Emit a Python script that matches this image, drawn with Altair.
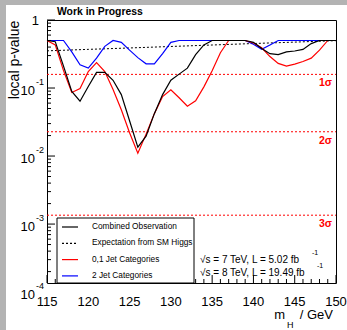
import altair as alt
import pandas as pd

# ---------------- data ----------------
mass = list(range(115, 151))
combined = [0.50, 0.48, 0.21, 0.089, 0.064, 0.105, 0.17, 0.17, 0.13, 0.08,
            0.033, 0.0135, 0.0196, 0.042, 0.08, 0.13, 0.16, 0.196, 0.31, 0.43,
            0.50, 0.50, 0.50, 0.50, 0.50, 0.47, 0.38, 0.32, 0.31, 0.34,
            0.35, 0.37, 0.45, 0.50, 0.50, 0.50]
jet01 = [0.50, 0.43, 0.18, 0.086, 0.098, 0.175, 0.237, 0.175, 0.095, 0.048,
         0.022, 0.011, 0.021, 0.042, 0.075, 0.094, 0.072, 0.054, 0.065, 0.104,
         0.18, 0.33, 0.50, 0.50, 0.50, 0.46, 0.39, 0.29, 0.23, 0.21,
         0.225, 0.245, 0.275, 0.36, 0.50, 0.50]
jet2 = [0.50, 0.50, 0.50, 0.34, 0.22, 0.196, 0.275, 0.41, 0.50, 0.47,
        0.36, 0.28, 0.227, 0.227, 0.32, 0.47, 0.50, 0.50, 0.50, 0.50,
        0.50, 0.50, 0.50, 0.50, 0.50, 0.44, 0.37, 0.43, 0.50, 0.50,
        0.50, 0.50, 0.50, 0.50, 0.50, 0.50]
exp_mass = [115, 120, 125, 130, 135, 140, 145, 150]
expected = [0.352, 0.37, 0.388, 0.408, 0.429, 0.451, 0.473, 0.497]

sigma_labels = ["1σ", "2σ", "3σ"]
sigma_p = [0.1587, 0.02275, 0.00135]

x_major = [115, 120, 125, 130, 135, 140, 145, 150]
x_minor = [m for m in range(115, 151) if m % 5 != 0]
y_decades = [0.1, 0.01, 0.001, 0.0001]
y_exponents = ["-1", "-2", "-3", "-4"]
y_major = [1.0, 0.1, 0.01, 0.001]
Y_MIN = 1.36e-4
y_minor = [k * 10.0 ** e for e in (-1, -2, -3, -4) for k in range(2, 10)
           if k * 10.0 ** e >= Y_MIN]

legend_labels = ["Combined Observation", "Expectation from SM Higgs",
                 "0,1 Jet Categories", "2 Jet Categories"]
legend_colors = ["black", "black", "#ff0000", "#0000ff"]
legend_dashed = [False, True, False, False]

energy_lines = ["√s = 7 TeV, L = 5.02 fb", "√s = 8 TeV, L = 19.49 fb"]

# ---------------- layout ----------------
W, H = 289, 263
PL, PT = 47, 20
FONT = "Liberation Sans"
xs = alt.Scale(domain=[115, 150], nice=False, zero=False)
ys = alt.Scale(type="log", domain=[Y_MIN, 1], nice=False)
one = pd.DataFrame({"k": [0]})


def X(f="m"):
    return alt.X(f"{f}:Q", scale=xs, axis=None)


def Y(f="p"):
    return alt.Y(f"{f}:Q", scale=ys, axis=None)


layers = []

# gray canvas border strips
layers.append(alt.Chart(one).mark_rect(color="#b3b3b3").encode(
    x=alt.value(-PL), x2=alt.value(-PL + 6), y=alt.value(-PT), y2=alt.value(H + 47)))
layers.append(alt.Chart(one).mark_rect(color="#b3b3b3").encode(
    x=alt.value(-PL), x2=alt.value(W + 11), y=alt.value(-PT), y2=alt.value(-PT + 5)))

# sigma lines
sig_df = pd.DataFrame({"p": sigma_p, "lab": sigma_labels})
layers.append(alt.Chart(sig_df).mark_rule(color="#ff0000", strokeDash=[2, 2], strokeWidth=1).encode(
    y=Y(), x=alt.value(0), x2=alt.value(W)))
layers.append(alt.Chart(sig_df).mark_text(color="#ff0000", fontWeight="bold", fontSize=10.5,
                                          font=FONT, align="right", baseline="middle", dy=9).encode(
    y=Y(), x=alt.value(W - 4), text="lab:N"))

# expected curve
exp_df = pd.DataFrame({"m": exp_mass, "p": expected})
layers.append(alt.Chart(exp_df).mark_line(color="black", strokeDash=[2, 2], strokeWidth=1).encode(
    x=X(), y=Y()))

# observed curves
for vals, col in [(jet2, "#0000ff"), (jet01, "#ff0000"), (combined, "black")]:
    df = pd.DataFrame({"m": mass, "p": vals})
    layers.append(alt.Chart(df).mark_line(color=col, strokeWidth=1.2).encode(x=X(), y=Y()))

# ticks (drawn inside, ROOT style)
layers.append(alt.Chart(pd.DataFrame({"m": x_major})).mark_rule(color="black").encode(
    x=X(), y=alt.value(H), y2=alt.value(H - 8)))
layers.append(alt.Chart(pd.DataFrame({"m": x_minor})).mark_rule(color="black").encode(
    x=X(), y=alt.value(H), y2=alt.value(H - 4)))
layers.append(alt.Chart(pd.DataFrame({"p": y_major})).mark_rule(color="black").encode(
    y=Y(), x=alt.value(0), x2=alt.value(8)))
layers.append(alt.Chart(pd.DataFrame({"p": y_minor})).mark_rule(color="black").encode(
    y=Y(), x=alt.value(0), x2=alt.value(4)))

# x tick labels
xl = pd.DataFrame({"m": x_major, "lab": [str(v) for v in x_major]})
layers.append(alt.Chart(xl).mark_text(fontSize=13, font=FONT, baseline="middle").encode(
    x=X(), y=alt.value(H + 19), text="lab:N"))

# y tick labels
yl = pd.DataFrame({"p": y_decades, "base": ["10"] * 4, "ex": y_exponents})
layers.append(alt.Chart(yl).mark_text(fontSize=13, font=FONT, align="right", baseline="middle", dy=3).encode(
    y=Y(), x=alt.value(-12), text="base:N"))
layers.append(alt.Chart(yl).mark_text(fontSize=9, font=FONT, align="left", baseline="middle", dy=-6).encode(
    y=Y(), x=alt.value(-11), text="ex:N"))
layers.append(alt.Chart(pd.DataFrame({"p": [1.0], "lab": ["1"]})).mark_text(
    fontSize=13, font=FONT, align="right", baseline="middle", dy=1).encode(
    y=Y(), x=alt.value(-8), text="lab:N"))

# axis titles
layers.append(alt.Chart(one).mark_text(fontSize=14, font=FONT, angle=270, baseline="middle",
                                       align="center", text="local p-value").encode(
    x=alt.value(-32), y=alt.value(40)))
layers.append(alt.Chart(one).mark_text(fontSize=13, font=FONT, align="right", baseline="middle",
                                       text="m").encode(x=alt.value(238), y=alt.value(H + 32)))
layers.append(alt.Chart(one).mark_text(fontSize=9, font=FONT, align="left", baseline="middle",
                                       text="H").encode(x=alt.value(240), y=alt.value(H + 42)))
layers.append(alt.Chart(one).mark_text(fontSize=13, font=FONT, align="right", baseline="middle",
                                       text="/ GeV").encode(x=alt.value(286), y=alt.value(H + 32)))

# title
layers.append(alt.Chart(one).mark_text(fontSize=10.4, font=FONT, fontWeight="bold", align="left",
                                       baseline="middle", text="Work in Progress").encode(
    x=alt.value(10), y=alt.value(-8)))

# legend box
layers.append(alt.Chart(one).mark_rect(fill="white", stroke="black", strokeWidth=1).encode(
    x=alt.value(10), x2=alt.value(147), y=alt.value(198), y2=alt.value(263)))
for i, (lab, col, dashed) in enumerate(zip(legend_labels, legend_colors, legend_dashed)):
    yy = 207 + 16.3 * i
    kw = {"strokeDash": [2, 2]} if dashed else {}
    layers.append(alt.Chart(one).mark_rule(color=col, strokeWidth=1.2, **kw).encode(
        x=alt.value(15), x2=alt.value(31), y=alt.value(yy)))
    layers.append(alt.Chart(one).mark_text(fontSize=8.3, font=FONT, align="left", baseline="middle",
                                           text=lab).encode(x=alt.value(45), y=alt.value(yy)))

# energy / luminosity text
for i, txt in enumerate(energy_lines):
    yy = 240 + 13.3 * i
    layers.append(alt.Chart(one).mark_text(fontSize=10, font=FONT, align="left", baseline="middle",
                                           text=txt).encode(x=alt.value(153), y=alt.value(yy)))
    layers.append(alt.Chart(one).mark_text(fontSize=7, font=FONT, align="left", baseline="middle",
                                           text="-1").encode(x=alt.value(265 + 5 * i), y=alt.value(yy - 7)))

chart = alt.layer(*layers).properties(
    width=W, height=H,
    padding={"left": PL, "top": PT, "right": 347 - PL - W, "bottom": 330 - PT - H},
    autosize=alt.AutoSizeParams(type="none"),
    background="white",
).configure_view(stroke="black", strokeWidth=1)

chart.save("out.html", embed_options={"renderer": "svg", "actions": False})
